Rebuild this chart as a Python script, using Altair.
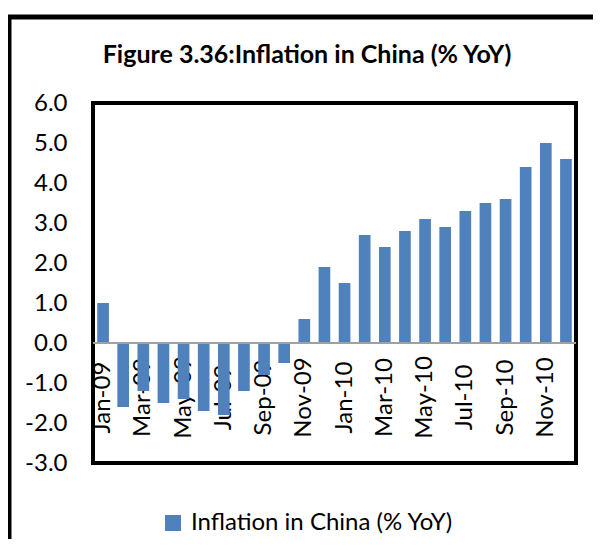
import altair as alt
import pandas as pd

months = ["Jan-09", "Feb-09", "Mar-09", "Apr-09", "May-09", "Jun-09",
          "Jul-09", "Aug-09", "Sep-09", "Oct-09", "Nov-09", "Dec-09",
          "Jan-10", "Feb-10", "Mar-10", "Apr-10", "May-10", "Jun-10",
          "Jul-10", "Aug-10", "Sep-10", "Oct-10", "Nov-10", "Dec-10"]
inflation = [1.0, -1.6, -1.2, -1.5, -1.4, -1.7,
             -1.8, -1.2, -0.8, -0.5, 0.6, 1.9,
             1.5, 2.7, 2.4, 2.8, 3.1, 2.9,
             3.3, 3.5, 3.6, 4.4, 5.0, 4.6]
series_name = "Inflation in China (% YoY)"
title_text = "Figure 3.36:Inflation in China (% YoY)"
y_ticks = [-3, -2, -1, 0, 1, 2, 3, 4, 5, 6]
x_labels = months[::2]

df = pd.DataFrame({"month": months, "value": inflation, "series": series_name})

FONT = "Lato"
BLUE = "#4F81BD"

x_enc = alt.X(
    "month:N", sort=None, title=None,
    scale=alt.Scale(paddingInner=0.42, paddingOuter=0.21),
    axis=alt.Axis(
        values=x_labels, offset=-120, labelAngle=-90, labelAlign="center",
        labelBaseline="middle", labelPadding=54, ticks=False, tickSize=0,
        domain=False, labelFontSize=24, labelFont=FONT, labelColor="black",
        labelOverlap=False, grid=False, zindex=0,
    ),
)
y_axis = alt.Axis(
    values=y_ticks, ticks=False, tickSize=0, domain=False, grid=False,
    labelPadding=26, labelFontSize=24, labelFont=FONT, labelColor="black",
    labelOverlap=False, labelBound=False, labelFlush=False,
    labelExpr="(datum.value < 0 ? '-' : '') + format(abs(datum.value), '.1f')",
)
y_scale = alt.Scale(domain=[-3, 6], nice=False, zero=False)

bars = alt.Chart(df).mark_bar().encode(
    x=x_enc,
    y=alt.Y("value:Q", title=None, scale=y_scale, axis=y_axis),
    color=alt.Color(
        "series:N", title=None,
        scale=alt.Scale(range=[BLUE]),
        legend=alt.Legend(
            orient="none", legendX=68, legendY=408, title=None,
            symbolType="square", symbolSize=256, symbolStrokeWidth=0,
            labelFontSize=24, labelFont=FONT, labelColor="black",
            labelOffset=6, padding=0, labelLimit=500,
        ),
    ),
)

zero_df = pd.DataFrame({"value": [0.0]})
zero_line = alt.Chart(zero_df).mark_rule(color="#A0A0A0", strokeWidth=2).encode(
    y=alt.Y("value:Q", title=None, scale=y_scale, axis=y_axis)
)

title_df = pd.DataFrame({"t": [title_text]})
title_mark = alt.Chart(title_df).mark_text(
    font=FONT, fontSize=25, fontWeight="bold", color="black",
    align="center", baseline="middle",
).encode(
    text="t:N", x=alt.value(214), y=alt.value(-48)
)

frame_df = pd.DataFrame({"f": [1]})
outer_frame = alt.Chart(frame_df).mark_rect(
    fill=None, fillOpacity=0, stroke="black", strokeWidth=5
).encode(
    x=alt.value(-84), x2=alt.value(700), y=alt.value(-86), y2=alt.value(700)
)

chart = alt.layer(bars, zero_line, title_mark, outer_frame).properties(
    width=483, height=360,
    background="white",
    autosize=alt.AutoSizeParams(type="none"),
    padding={"left": 85, "top": 95, "right": 17, "bottom": 76},
).configure_view(
    stroke="black", strokeWidth=4
).configure_axis(
    labelOverlap=False
)

chart.save("out.html", embed_options={"renderer": "svg", "actions": False})
